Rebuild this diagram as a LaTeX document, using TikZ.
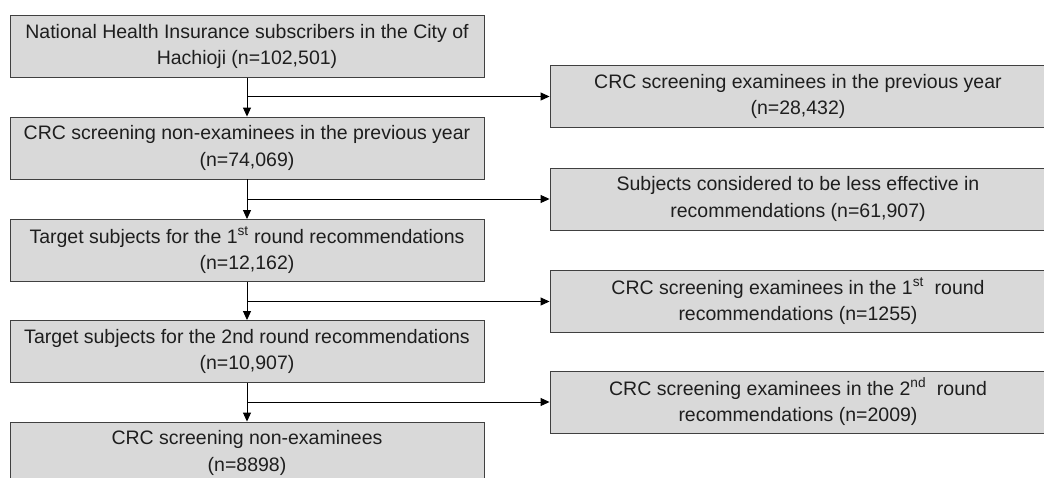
\documentclass[tikz,border=0pt]{standalone}
\usepackage[usenames,dvipsnames,svgnames,table,rgb]{xcolor}
\usepackage{fontspec}
\setmainfont{Liberation Sans}
\usepackage{tikz}
\usetikzlibrary{arrows.meta}

\definecolor{boxfill}{RGB}{217,217,217}
\definecolor{boxline}{RGB}{64,64,64}
\definecolor{boxtext}{RGB}{30,30,30}

\begin{document}
\begin{tikzpicture}[x=1pt,y=-1pt,
		stage/.style={draw=boxline,fill=boxfill,line width=0.9pt,minimum width=474pt,minimum height=62pt,inner sep=0pt,align=center,text=boxtext,font=\fontsize{19.5}{26.5}\selectfont},
		excluded/.style={stage,minimum width=496pt},
		flow/.style={line width=0.9pt,-{Triangle[length=9pt,width=8pt]}}]
		
		\useasboundingbox (0,0) rectangle (1044,477) ;
		\clip (0,0) rectangle (1044,477) ;
		
		\node[stage] (subscribers) at (247,46.5) {National Health Insurance subscribers in the City of\\Hachioji (n=102,501)} ;
		\node[stage] (nonexam_prev) at (247,148) {CRC screening non-examinees in the previous year\\(n=74,069)} ;
		\node[stage] (target_first) at (247,250.5) {Target subjects for the 1\textsuperscript{st} round recommendations\\(n=12,162)} ;
		\node[stage] (target_second) at (247,351.5) {Target subjects for the 2nd round recommendations\\(n=10,907)} ;
		\node[stage] (nonexam) at (247,453) {CRC screening non-examinees\\(n=8898)} ;
		
		\node[excluded] (exam_prev) at (798,96.5) {CRC screening examinees in the previous year\\(n=28,432)} ;
		\node[excluded] (less_effective) at (798,199) {Subjects considered to be less effective in\\recommendations (n=61,907)} ;
		\node[excluded] (exam_first) at (798,301.5) {CRC screening examinees in the 1\textsuperscript{st}\ \ round\\recommendations (n=1255)} ;
		\node[excluded] (exam_second) at (798,402) {CRC screening examinees in the 2\textsuperscript{nd}\ \ round\\recommendations (n=2009)} ;
		
		\draw[flow] (subscribers) -- (nonexam_prev) ;
		\draw[flow] (nonexam_prev) -- (target_first) ;
		\draw[flow] (target_first) -- (target_second) ;
		\draw[flow] (target_second) -- (nonexam) ;
		
		\draw[flow] (subscribers.south |- exam_prev.west) -- (exam_prev.west) ;
		\draw[flow] (nonexam_prev.south |- less_effective.west) -- (less_effective.west) ;
		\draw[flow] (target_first.south |- exam_first.west) -- (exam_first.west) ;
		\draw[flow] (target_second.south |- exam_second.west) -- (exam_second.west) ;
	\end{tikzpicture}
\end{document}
